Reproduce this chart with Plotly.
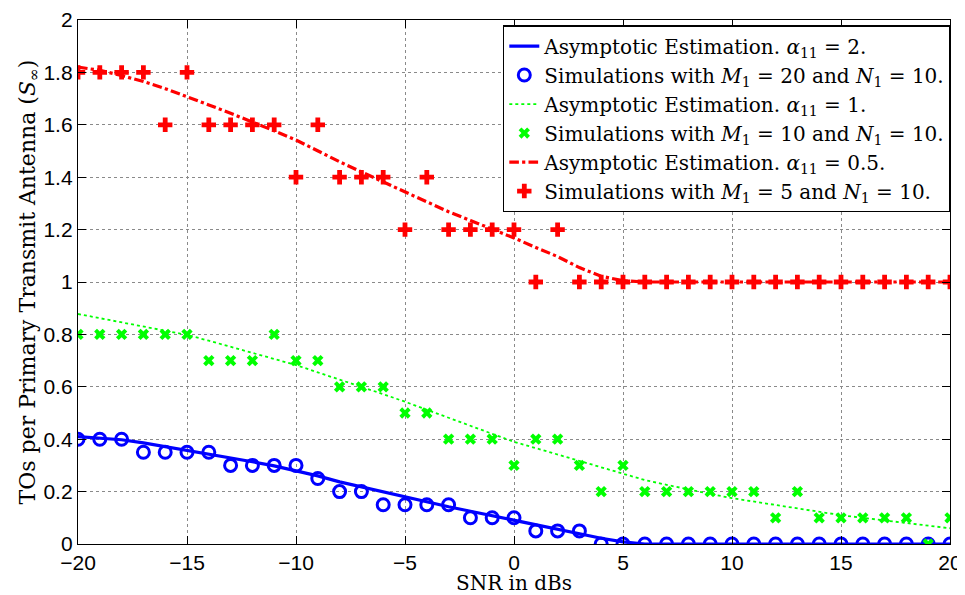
import plotly.graph_objects as go

snr = list(range(-20, 21))

# Asymptotic estimations (curves)
asym_a2 = [0.410, 0.405, 0.398, 0.386, 0.372, 0.358, 0.344, 0.330, 0.314, 0.298,
           0.280, 0.260, 0.237, 0.218, 0.198, 0.178, 0.160, 0.142, 0.125, 0.108,
           0.090, 0.072, 0.055, 0.038, 0.022, 0.008, 0.0, 0.0, 0.0, 0.0,
           0.0, 0.0, 0.0, 0.0, 0.0, 0.0, 0.0, 0.0, 0.0, 0.0, 0.0]
asym_a1 = [0.878, 0.862, 0.846, 0.830, 0.814, 0.798, 0.776, 0.753, 0.730, 0.707,
           0.683, 0.655, 0.628, 0.600, 0.572, 0.543, 0.512, 0.482, 0.452, 0.421,
           0.390, 0.366, 0.342, 0.318, 0.294, 0.270, 0.244, 0.226, 0.208, 0.191,
           0.175, 0.162, 0.148, 0.135, 0.122, 0.110, 0.100, 0.090, 0.080, 0.070, 0.060]
asym_a05 = [1.820, 1.808, 1.788, 1.765, 1.738, 1.708, 1.676, 1.644, 1.612, 1.577,
            1.542, 1.500, 1.459, 1.420, 1.382, 1.345, 1.306, 1.268, 1.235, 1.202,
            1.168, 1.132, 1.097, 1.055, 1.022, 1.005, 1.0, 1.0, 1.0, 1.0,
            1.0, 1.0, 1.0, 1.0, 1.0, 1.0, 1.0, 1.0, 1.0, 1.0, 1.0]

# Simulations
sim_m20 = [0.4, 0.4, 0.4, 0.35, 0.35, 0.35, 0.35, 0.3, 0.3, 0.3,
           0.3, 0.25, 0.2, 0.2, 0.15, 0.15, 0.15, 0.15, 0.1, 0.1,
           0.1, 0.05, 0.05, 0.05, 0.0, 0.0, 0.0, 0.0, 0.0, 0.0,
           0.0, 0.0, 0.0, 0.0, 0.0, 0.0, 0.0, 0.0, 0.0, 0.0, 0.0]
sim_m10 = [0.8, 0.8, 0.8, 0.8, 0.8, 0.8, 0.7, 0.7, 0.7, 0.8,
           0.7, 0.7, 0.6, 0.6, 0.6, 0.5, 0.5, 0.4, 0.4, 0.4,
           0.3, 0.4, 0.4, 0.3, 0.2, 0.3, 0.2, 0.2, 0.2, 0.2,
           0.2, 0.2, 0.1, 0.2, 0.1, 0.1, 0.1, 0.1, 0.1, 0.0, 0.1]
sim_m5 = [1.8, 1.8, 1.8, 1.8, 1.6, 1.8, 1.6, 1.6, 1.6, 1.6,
          1.4, 1.6, 1.4, 1.4, 1.4, 1.2, 1.4, 1.2, 1.2, 1.2,
          1.2, 1.0, 1.2, 1.0, 1.0, 1.0, 1.0, 1.0, 1.0, 1.0,
          1.0, 1.0, 1.0, 1.0, 1.0, 1.0, 1.0, 1.0, 1.0, 1.0, 1.0]

x_ticks = [-20, -15, -10, -5, 0, 5, 10, 15, 20]
x_ticklabels = ["\u221220", "\u221215", "\u221210", "\u22125", "0", "5", "10", "15", "20"]
y_ticks = [0, 0.2, 0.4, 0.6, 0.8, 1, 1.2, 1.4, 1.6, 1.8, 2]
y_ticklabels = ["0", "0.2", "0.4", "0.6", "0.8", "1", "1.2", "1.4", "1.6", "1.8", "2"]

names = [
    "Asymptotic Estimation. <i>\u03b1</i><sub>11</sub> = 2.",
    "Simulations with <i>M</i><sub>1</sub> = 20 and <i>N</i><sub>1</sub> = 10.",
    "Asymptotic Estimation. <i>\u03b1</i><sub>11</sub> = 1.",
    "Simulations with <i>M</i><sub>1</sub> = 10 and <i>N</i><sub>1</sub> = 10.",
    "Asymptotic Estimation. <i>\u03b1</i><sub>11</sub> = 0.5.",
    "Simulations with <i>M</i><sub>1</sub> = 5 and <i>N</i><sub>1</sub> = 10.",
]

BLUE = "#0000ff"
GREEN = "#00ff00"
RED = "#ff0000"
SERIF = "DejaVu Serif, Liberation Serif, serif"
SANS = "Liberation Sans, Arial, sans-serif"

fig = go.Figure()
fig.add_trace(go.Scatter(x=snr, y=asym_a2, mode="lines", name=names[0],
                         line=dict(color=BLUE, width=3.2)))
fig.add_trace(go.Scatter(x=snr, y=sim_m20, mode="markers", name=names[1],
                         marker=dict(symbol="circle-open", size=12, color=BLUE,
                                     line=dict(width=3, color=BLUE))))
fig.add_trace(go.Scatter(x=snr, y=asym_a1, mode="lines", name=names[2],
                         line=dict(color=GREEN, width=1.8, dash="dot")))
fig.add_trace(go.Scatter(x=snr, y=sim_m10, mode="markers", name=names[3],
                         marker=dict(symbol="x", size=10, color=GREEN,
                                     line=dict(width=0))))
fig.add_trace(go.Scatter(x=snr, y=asym_a05, mode="lines", name=names[4],
                         line=dict(color=RED, width=3.2, dash="dashdot")))
fig.add_trace(go.Scatter(x=snr, y=sim_m5, mode="markers", name=names[5],
                         marker=dict(symbol="cross", size=12, color=RED,
                                     line=dict(width=0))))

axis_common = dict(
    showline=True, linecolor="black", linewidth=1.3, mirror="ticks",
    ticks="inside", ticklen=8, tickcolor="black", tickwidth=1,
    showgrid=True, gridcolor="#8a8a8a", gridwidth=1, griddash="dot",
    zeroline=False, automargin=False,
    tickfont=dict(family=SANS, size=21, color="black"),
)

# page body adds an 8px offset; figure sized to fit the 965x595 window
fig.update_layout(
    width=957, height=587,
    paper_bgcolor="white", plot_bgcolor="white",
    margin=dict(l=70, r=15, t=12, b=51),
    showlegend=True,
    legend=dict(
        x=1, y=0.99, xanchor="right", yanchor="top",
        bgcolor="white", bordercolor="black", borderwidth=1.3,
        font=dict(family=SERIF, size=20, color="black"),
        tracegroupgap=0, itemwidth=30,
    ),
    xaxis=dict(range=[-20, 20], tickvals=x_ticks, ticktext=x_ticklabels,
               title=dict(text="SNR in dBs", standoff=5,
                          font=dict(family=SERIF, size=20, color="black")),
               **axis_common),
    yaxis=dict(range=[0, 2], tickvals=y_ticks, ticktext=y_ticklabels,
               title=dict(text="TOs per Primary Transmit Antenna (<i>S</i><sub>\u221e</sub>)", standoff=0,
                          font=dict(family=SERIF, size=22, color="black")),
               **axis_common),
)

fig.write_html("out.html")
